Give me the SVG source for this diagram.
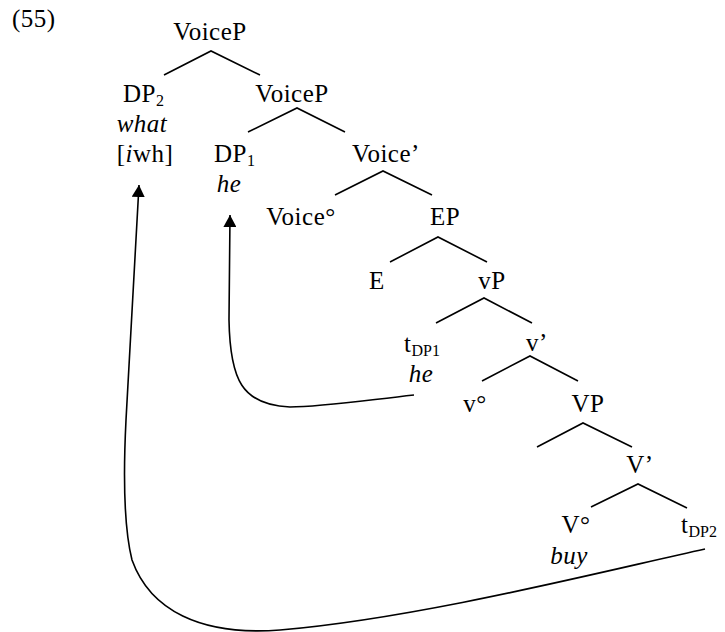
<svg xmlns="http://www.w3.org/2000/svg" width="725" height="632" viewBox="0 0 725 632">
<style>
text{font-family:"Liberation Serif","Times New Roman",serif;font-size:25px;fill:#000;letter-spacing:0.5px}
.m{text-anchor:middle}
.i{font-style:italic}
.s{font-size:16px;letter-spacing:0}
.e{stroke:#000;stroke-width:1.6;fill:none}
.a{stroke:#000;stroke-width:1.6;fill:none;marker-end:url(#ah)}
</style>
<defs>
<marker id="ah" viewBox="0 0 12 13" refX="12" refY="6.5" markerWidth="12" markerHeight="13" markerUnits="userSpaceOnUse" orient="auto">
<path d="M0,0 L12,6.5 L0,13 z" fill="#000"/>
</marker>
</defs>
<text x="12" y="27">(55)</text>
<g id="n-voicep1"><text class="m" x="210" y="40">VoiceP</text></g>
<g id="n-dp2"><text x="123" y="102">DP<tspan class="s" dy="4">2</tspan></text><text class="m i" x="142" y="132">what</text><text class="m" x="145" y="162">[<tspan class="i">i</tspan>wh]</text></g>
<g id="n-voicep2"><text class="m" x="292" y="102">VoiceP</text></g>
<g id="n-dp1"><text x="214" y="162">DP<tspan class="s" dy="4">1</tspan></text><text class="m i" x="229" y="192">he</text></g>
<g id="n-voicebar"><text class="m" x="386" y="162">Voice’</text></g>
<g id="n-voicehead"><text class="m" x="301" y="225">Voice°</text></g>
<g id="n-ep"><text class="m" x="445" y="225">EP</text></g>
<g id="n-e"><text class="m" x="377" y="289">E</text></g>
<g id="n-vp"><text class="m" x="492" y="289">vP</text></g>
<g id="n-tdp1"><text x="404" y="352">t<tspan class="s" dy="4">DP1</tspan></text><text class="m i" x="421" y="382">he</text></g>
<g id="n-vbar"><text class="m" x="537" y="351">v’</text></g>
<g id="n-vhead"><text class="m" x="475" y="412">v°</text></g>
<g id="n-VP"><text class="m" x="588" y="412">VP</text></g>
<g id="n-Vbar"><text class="m" x="640" y="473">V’</text></g>
<g id="n-Vhead"><text class="m" x="576" y="533">V°</text><text class="m i" x="569" y="564">buy</text></g>
<g id="n-tdp2"><text x="681" y="533">t<tspan class="s" dy="4">DP2</tspan></text></g>
<g id="connectors">
<path class="e" d="M164,75 L211,51 L260,75"/>
<path class="e" d="M248,132 L297,108 L345,132"/>
<path class="e" d="M335,195 L383,171 L432,195"/>
<path class="e" d="M390,262 L438,237 L487,262"/>
<path class="e" d="M436,323 L484,298 L532,323"/>
<path class="e" d="M482,381 L530,356 L578,381"/>
<path class="e" d="M537,447 L583,423 L632,447"/>
<path class="e" d="M591,507 L638,484 L687,508"/>
<path class="a" d="M414,395 C360,401 320,407 290,407 C242,405 230,380 229,320 L230,215"/>
<path class="a" d="M705,549 C600,572 420,618 280,630 C200,636 150,610 132,560 C122,520 124,460 126,420 L139,185"/>
</g>
</svg>
